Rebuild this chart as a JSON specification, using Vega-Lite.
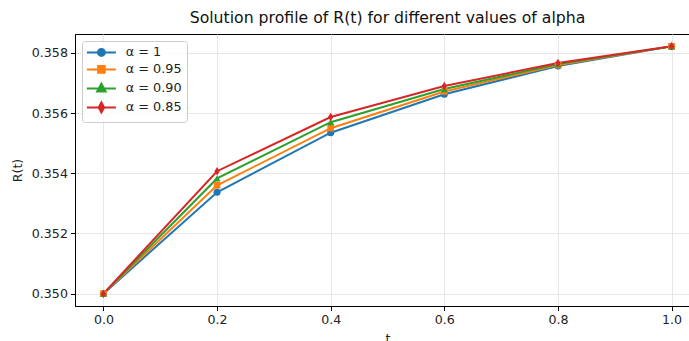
{
  "$schema": "https://vega.github.io/schema/vega-lite/v6.json",
  "width": 625,
  "height": 272,
  "autosize": {"type": "none"},
  "padding": {"left": 75, "top": 34, "right": 0, "bottom": 35},
  "background": "white",
  "config": {
    "font": "DejaVu Sans",
    "view": {"stroke": "black", "strokeWidth": 1},
    "axis": {
      "labelFont": "DejaVu Sans",
      "titleFont": "DejaVu Sans",
      "labelFontSize": 12.6,
      "titleFontSize": 12.6,
      "titleFontWeight": "normal",
      "labelColor": "#222",
      "titleColor": "#222",
      "domainColor": "black",
      "tickColor": "black",
      "tickSize": 4.6,
      "labelPadding": 3,
      "gridColor": "#e6e6e6",
      "gridWidth": 1
    },
    "title": {"font": "DejaVu Sans", "fontSize": 15.7, "fontWeight": "normal", "color": "#111", "offset": 7}
  },
  "title": "Solution profile of R(t) for different values of alpha",
  "data": {
    "values": [
      {"t": 0.0, "series": "α = 1", "R": 0.35},
      {"t": 0.2, "series": "α = 1", "R": 0.35337},
      {"t": 0.4, "series": "α = 1", "R": 0.35535},
      {"t": 0.6, "series": "α = 1", "R": 0.35663},
      {"t": 0.8, "series": "α = 1", "R": 0.35757},
      {"t": 1.0, "series": "α = 1", "R": 0.35822},
      {"t": 0.0, "series": "α = 0.95", "R": 0.35},
      {"t": 0.2, "series": "α = 0.95", "R": 0.3536},
      {"t": 0.4, "series": "α = 0.95", "R": 0.3555},
      {"t": 0.6, "series": "α = 0.95", "R": 0.35672},
      {"t": 0.8, "series": "α = 0.95", "R": 0.3576},
      {"t": 1.0, "series": "α = 0.95", "R": 0.35822},
      {"t": 0.0, "series": "α = 0.90", "R": 0.35},
      {"t": 0.2, "series": "α = 0.90", "R": 0.35383},
      {"t": 0.4, "series": "α = 0.90", "R": 0.3557},
      {"t": 0.6, "series": "α = 0.90", "R": 0.3568},
      {"t": 0.8, "series": "α = 0.90", "R": 0.35763},
      {"t": 1.0, "series": "α = 0.90", "R": 0.35822},
      {"t": 0.0, "series": "α = 0.85", "R": 0.35},
      {"t": 0.2, "series": "α = 0.85", "R": 0.35407},
      {"t": 0.4, "series": "α = 0.85", "R": 0.35587},
      {"t": 0.6, "series": "α = 0.85", "R": 0.3569},
      {"t": 0.8, "series": "α = 0.85", "R": 0.35767},
      {"t": 1.0, "series": "α = 0.85", "R": 0.35822}
    ]
  },
  "encoding": {
    "x": {
      "field": "t", "type": "quantitative", "title": "t",
      "scale": {"domain": [-0.05, 1.05], "nice": false, "zero": false},
      "axis": {"values": [0, 0.2, 0.4, 0.6, 0.8, 1.0], "format": ".1f", "titlePadding": 6}
    },
    "y": {
      "field": "R", "type": "quantitative", "title": "R(t)",
      "scale": {"domain": [0.349589, 0.358631], "nice": false, "zero": false},
      "axis": {"values": [0.35, 0.352, 0.354, 0.356, 0.358], "format": ".3f", "titlePadding": 7}
    },
    "color": {
      "field": "series", "type": "nominal",
      "scale": {"domain": ["α = 1", "α = 0.95", "α = 0.90", "α = 0.85"], "range": ["#1f77b4", "#ff7f0e", "#2ca02c", "#d62728"]},
      "legend": {
        "title": null,
        "orient": "top-left",
        "offset": 7,
        "padding": 5,
        "fillColor": "rgba(255,255,255,0.8)",
        "strokeColor": "#cccccc",
        "cornerRadius": 3,
        "labelFont": "DejaVu Sans",
        "labelFontSize": 12.8,
        "labelColor": "#222",
        "labelOffset": 26,
        "rowPadding": 2,
        "symbolSize": 100,
        "symbolStrokeWidth": 2,
        "encode": {
          "symbols": {
            "update": {
              "shape": {"signal": "['M-1.3,0H4.5M2.3,0A0.7,0.7,0,1,1,0.9,0A0.7,0.7,0,1,1,2.3,0Z', 'M-1.3,0H4.5M0.94,-0.66H2.26V0.66H0.94Z', 'M-1.3,0H4.5M1.6,-0.95L2.45,0.6H0.75Z', 'M-1.3,0H4.5M1.6,-1L2.15,0L1.6,1L1.05,0Z'][datum.index]"},
              "fill": {"signal": "scale('color', datum.value)"},
              "fillOpacity": {"value": 1},
              "stroke": {"signal": "scale('color', datum.value)"},
              "strokeWidth": {"value": 2}
            }
          }
        }
      }
    }
  },
  "layer": [
    {"mark": {"type": "line", "strokeWidth": 2}},
    {
      "transform": [{"filter": "datum.series === 'α = 1'"}],
      "mark": {"type": "point", "filled": true, "opacity": 1, "size": 50, "shape": "circle"}
    },
    {
      "transform": [{"filter": "datum.series === 'α = 0.95'"}],
      "mark": {"type": "point", "filled": true, "opacity": 1, "size": 44, "shape": "square"}
    },
    {
      "transform": [{"filter": "datum.series === 'α = 0.90'"}],
      "mark": {"type": "point", "filled": true, "opacity": 1, "size": 50, "shape": "triangle-up"}
    },
    {
      "transform": [{"filter": "datum.series === 'α = 0.85'"}],
      "mark": {"type": "point", "filled": true, "opacity": 1, "size": 50, "shape": "M0,-1.2L0.75,0L0,1.2L-0.75,0Z"}
    }
  ]
}
